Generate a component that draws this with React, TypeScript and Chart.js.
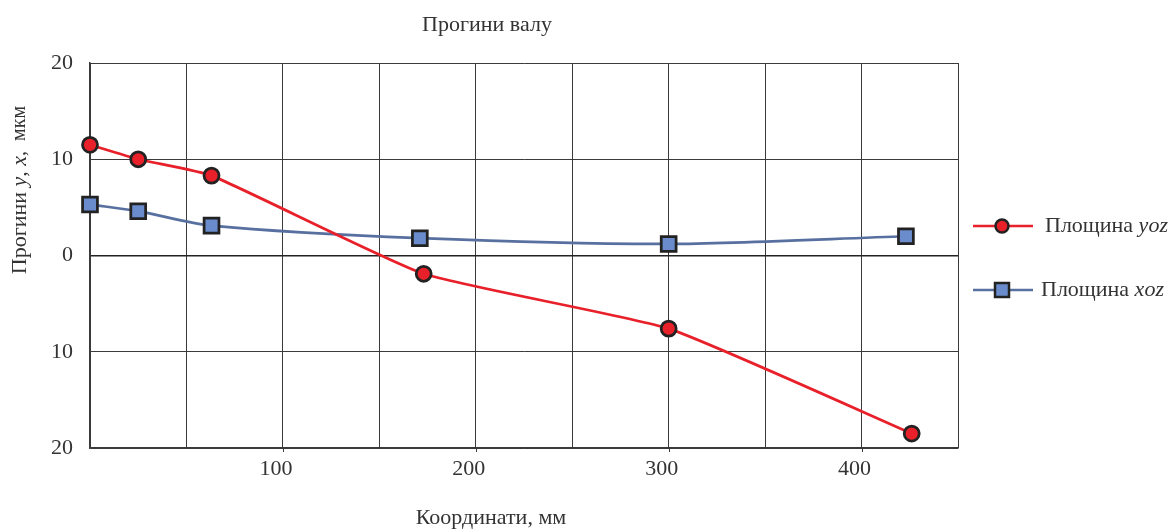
import React, { useEffect, useRef } from "react";
import { Chart, registerables } from "chart.js";

Chart.register(...registerables);

const xRed = [0, 25, 63, 173, 300, 426];
const yRed = [11.5, 10.0, 8.3, -1.9, -7.6, -18.5];
const xBlue = [0, 25, 63, 171, 300, 423];
const yBlue = [5.3, 4.6, 3.1, 1.8, 1.2, 2.0];
const xLabelsShown = [100, 200, 300, 400];
const titleText = "Прогини валу";
const xTitle = "Координати, мм";
const legendNames = ["Площина ", "Площина "];
const legendItalic = ["yoz", "xoz"];

const SERIF = "'Liberation Serif', 'Times New Roman', serif";
const FS = 22;
const RED = "#e8202a";
const BLUE_LINE = "#5870a0";
const BLUE_FILL = "#6a8ccc";
const DARK = "#222222";
const TEXT = "#333333";
const GRID = "#3a3a3a";

export default function App() {
  const ref = useRef<HTMLCanvasElement>(null);
  useEffect(() => {
    document.body.style.margin = "0";
    const canvas = ref.current!;
    const textPlugin = {
      id: "texts",
      afterDraw(chart: any) {
        const ctx = chart.ctx;
        const xs = chart.scales.x;
        const a = chart.chartArea;
        ctx.save();
        // short tick marks at labelled x values
        ctx.strokeStyle = GRID;
        ctx.lineWidth = 1;
        xLabelsShown.forEach((v) => {
          const px = Math.round(xs.getPixelForValue(v)) + 0.5;
          ctx.beginPath();
          ctx.moveTo(px, a.bottom);
          ctx.lineTo(px, a.bottom + 4);
          ctx.stroke();
        });
        ctx.fillStyle = TEXT;
        ctx.textBaseline = "middle";
        // title
        ctx.font = `${FS}px ${SERIF}`;
        ctx.textAlign = "center";
        ctx.fillText(titleText, 487, 25);
        // x title
        ctx.fillText(xTitle, 491, 518);
        // y title (rotated, mixed italic)
        ctx.save();
        ctx.translate(20, 190);
        ctx.rotate(-Math.PI / 2);
        const parts: [string, boolean, number][] = [
          ["Прогини ", false, FS],
          ["y", true, FS],
          [", ", false, FS],
          ["x", true, FS],
          [",  мкм", false, 20],
        ];
        let total = 0;
        for (const [t, it, f] of parts) {
          ctx.font = `${it ? "italic " : ""}${f}px ${SERIF}`;
          total += ctx.measureText(t).width;
        }
        let px = -total / 2;
        ctx.textAlign = "left";
        for (const [t, it, f] of parts) {
          ctx.font = `${it ? "italic " : ""}${f}px ${SERIF}`;
          ctx.fillText(t, px, 0);
          px += ctx.measureText(t).width;
        }
        ctx.restore();
        // legend
        const items = [
          { y: 226, color: RED, fill: RED, shape: "circle" },
          { y: 290, color: BLUE_LINE, fill: BLUE_FILL, shape: "square" },
        ];
        items.forEach((it, i) => {
          ctx.strokeStyle = it.color;
          ctx.lineWidth = 2.5;
          ctx.beginPath();
          ctx.moveTo(973, it.y);
          ctx.lineTo(1033, it.y);
          ctx.stroke();
          ctx.fillStyle = it.fill;
          ctx.strokeStyle = DARK;
          ctx.lineWidth = 2.5;
          ctx.beginPath();
          if (it.shape === "circle") {
            ctx.arc(1002, it.y, 6.5, 0, Math.PI * 2);
          } else {
            ctx.rect(995, it.y - 7, 14, 14);
          }
          ctx.fill();
          ctx.stroke();
          ctx.fillStyle = TEXT;
          ctx.textAlign = "left";
          ctx.font = `${FS}px ${SERIF}`;
          const x0 = i === 0 ? 1045 : 1041;
          ctx.fillText(legendNames[i], x0, it.y);
          const w = ctx.measureText(legendNames[i]).width;
          ctx.font = `italic ${FS}px ${SERIF}`;
          ctx.fillText(legendItalic[i], x0 + w, it.y);
        });
        ctx.restore();
      },
    };

    const chart = new Chart(canvas, {
      type: "line",
      data: {
        datasets: [
          {
            label: "Площина yoz",
            data: xRed.map((x, i) => ({ x, y: yRed[i] })),
            borderColor: RED,
            backgroundColor: RED,
            borderWidth: 2.75,
            pointStyle: "circle",
            pointRadius: 7.5,
            pointBorderColor: DARK,
            pointBorderWidth: 2.75,
            pointBackgroundColor: RED,
            tension: 0.15,
            clip: false,
          },
          {
            label: "Площина xoz",
            data: xBlue.map((x, i) => ({ x, y: yBlue[i] })),
            borderColor: BLUE_LINE,
            backgroundColor: BLUE_FILL,
            borderWidth: 2.75,
            pointStyle: "rect",
            pointRadius: 10.5,
            pointBorderColor: DARK,
            pointBorderWidth: 2.75,
            pointBackgroundColor: BLUE_FILL,
            tension: 0.3,
            clip: false,
          },
        ],
      },
      options: {
        animation: false,
        responsive: false,
        devicePixelRatio: 1,
        layout: { padding: { top: 63, right: 213, left: 0, bottom: 0 } },
        plugins: {
          legend: { display: false },
          title: { display: false },
          tooltip: { enabled: false },
        },
        scales: {
          x: {
            type: "linear",
            min: 0,
            max: 450,
            afterFit: (s: any) => {
              s.height = 82;
            },
            afterBuildTicks: (s: any) => {
              const t = [];
              for (let v = 0; v <= 450; v += 50) t.push({ value: v });
              s.ticks = t;
            },
            ticks: {
              autoSkip: false,
              maxRotation: 0,
              padding: 8,
              labelOffset: -7,
              color: TEXT,
              font: { family: SERIF, size: FS },
              callback: (v: any) => (xLabelsShown.includes(Number(v)) ? String(v) : ""),
            },
            grid: { color: GRID, lineWidth: 1, drawTicks: false },
            border: { color: GRID, width: 1.5 },
          },
          y: {
            type: "linear",
            min: -20,
            max: 20,
            afterFit: (s: any) => {
              s.width = 90;
            },
            ticks: {
              stepSize: 10,
              padding: 17,
              color: TEXT,
              font: { family: SERIF, size: FS },
              callback: (v: any) => String(Math.abs(Number(v))),
            },
            grid: {
              color: (c: any) => (c.tick && c.tick.value === 0 ? "#222222" : GRID),
              lineWidth: (c: any) => (c.tick && c.tick.value === 0 ? 1.5 : 1),
              drawTicks: false,
            },
            border: { color: GRID, width: 1.5 },
          },
        },
      },
      plugins: [textPlugin],
    });
    return () => chart.destroy();
  }, []);
  return (
    <div style={{ width: 1171, height: 530, background: "#fff" }}>
      <canvas ref={ref} width={1171} height={530} style={{ display: "block" }} />
    </div>
  );
}
